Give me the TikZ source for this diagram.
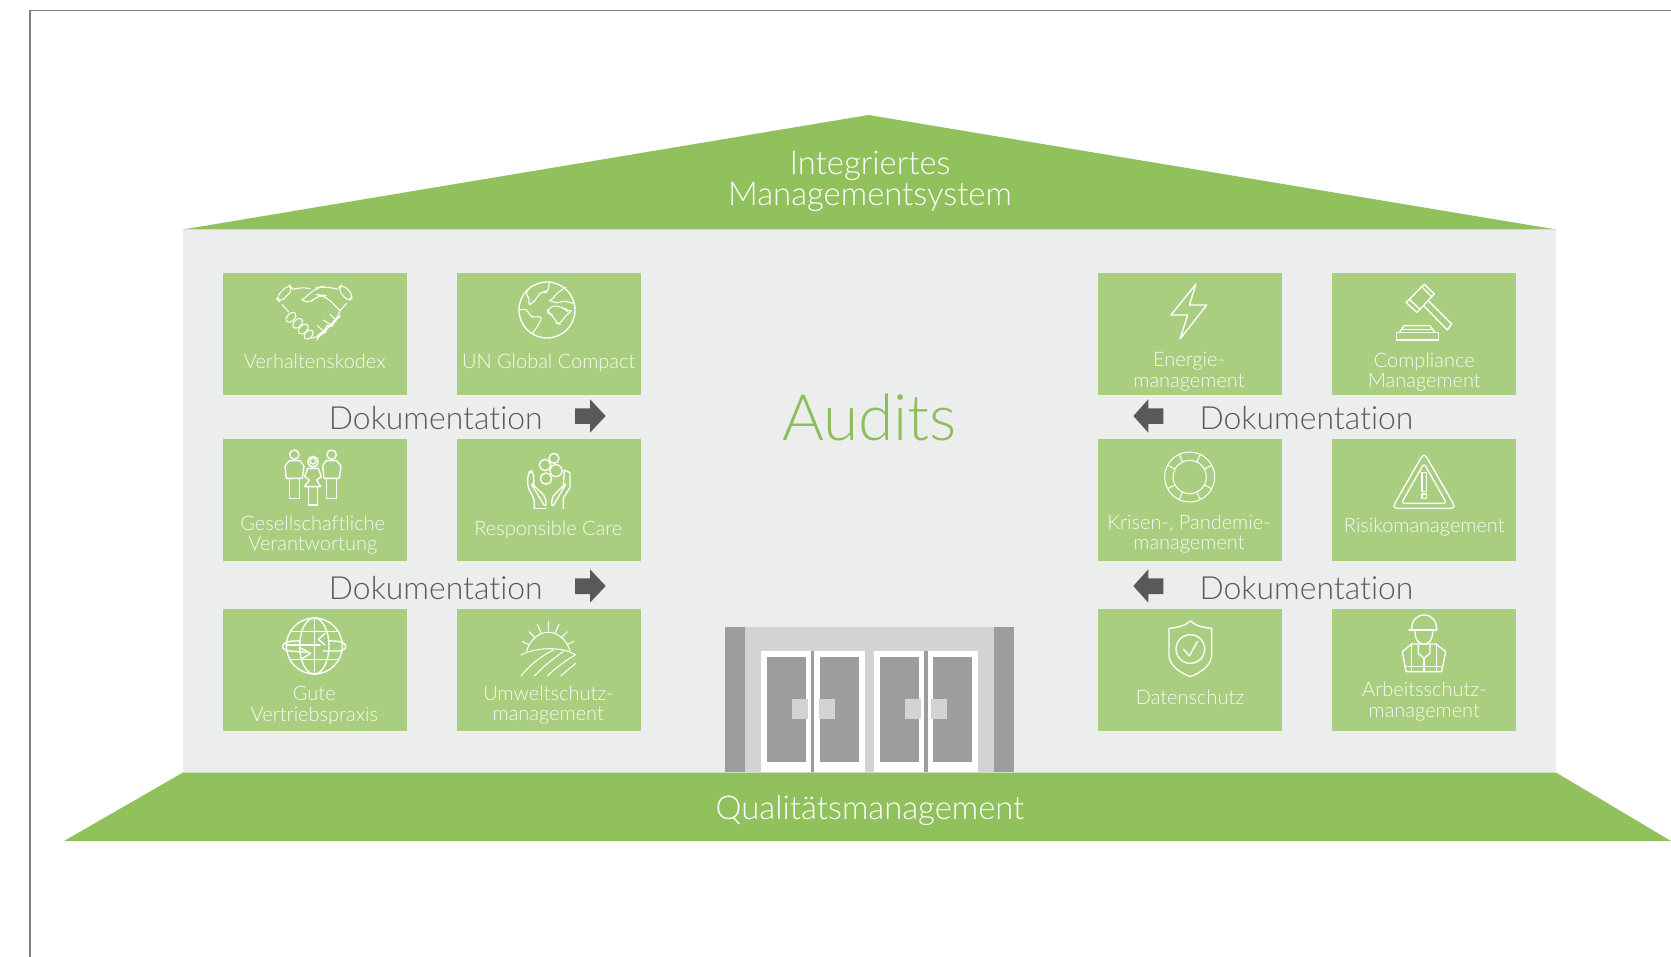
\documentclass[tikz,border=0pt]{standalone}
\usepackage{fontspec}
\usetikzlibrary{calc}
\setmainfont{Lato Light}[Ligatures=CommonOff]
\definecolor{roofgreen}{HTML}{91C15D}
\definecolor{boxgreen}{HTML}{A9CE80}
\definecolor{wallgray}{HTML}{ECEDED}
\definecolor{darkgray}{HTML}{58595B}
\definecolor{doorgray}{HTML}{9C9D9F}
\definecolor{lightdoor}{HTML}{D1D3D4}
\definecolor{audit}{HTML}{8CBF5A}
\definecolor{framegray}{HTML}{808285}
\tikzset{
 tile/.style={fill=boxgreen,draw=none},
 tiletext/.style={anchor=base,yshift=-0.8pt,text=white!92!boxgreen,font=\fontsize{20}{21}\selectfont,inner sep=0pt},
 doktext/.style={anchor=base,yshift=-0.8pt,text=darkgray,font=\fontsize{31.9}{33}\selectfont,inner sep=0pt},
 headtext/.style={anchor=base,yshift=-0.8pt,text=white,font=\fontsize{32.8}{34}\selectfont,inner sep=0pt},
 zoomed/.style 2 args={shift={(#1,#2)},x=0.33333pt,y=-0.33333pt},
 icon/.style={draw=white,line width=1.35pt,line join=round,line cap=round},
 thinicon/.style={draw=white,line width=1.05pt,line join=round,line cap=round},
 dokarrow/.style={fill=darkgray,draw=none},
}
\begin{document}
\begin{tikzpicture}[x=1pt,y=-1pt]
\useasboundingbox (0,0) rectangle (1671,957);
\clip (0,0) rectangle (1671,957);
\fill[white] (0,0) rectangle (1671,957);
% frame
\draw[draw=framegray,line width=1.3pt] (30,957) -- (30,10.5) -- (1671,10.5);
% building
\fill[wallgray] (183,229.5) rectangle (1556,773);
\fill[roofgreen] (868.5,115) -- (1556,229.5) -- (183,229.5) -- cycle;
\fill[roofgreen] (183,772.5) -- (1556,772.5) -- (1671,841) -- (64,841) -- cycle;
% tiles
\fill[tile] (222.7,273) rectangle (406.7,395);
\fill[tile] (456.7,273) rectangle (640.7,395);
\fill[tile] (222.7,439) rectangle (406.7,561.3);
\fill[tile] (456.7,439) rectangle (640.7,561.3);
\fill[tile] (222.7,609) rectangle (406.7,731);
\fill[tile] (456.7,609) rectangle (640.7,731);
\fill[tile] (1098,273) rectangle (1281.7,395);
\fill[tile] (1332,273) rectangle (1516,395);
\fill[tile] (1098,439) rectangle (1281.7,561.3);
\fill[tile] (1332,439) rectangle (1516,561.3);
\fill[tile] (1098,609) rectangle (1281.7,731);
\fill[tile] (1332,609) rectangle (1516,731);
% door
\begin{scope}[zoomed={710}{610}]
\fill[lightdoor] (104,51) rectangle (851,487);
\fill[doorgray] (44,51) rectangle (104,487);
\fill[doorgray] (851,51) rectangle (911,487);
\fill[doorgray] (302,123) rectangle (312,487);
\fill[doorgray] (643,123) rectangle (653,487);
\fill[white] (152,123) rectangle (302,487);
\fill[white] (312,123) rectangle (465,487);
\fill[white] (491,123) rectangle (643,487);
\fill[white] (653,123) rectangle (803,487);
\fill[doorgray] (170,141) rectangle (288,456);
\fill[doorgray] (329,141) rectangle (446,456);
\fill[doorgray] (509,141) rectangle (626,456);
\fill[doorgray] (668,141) rectangle (785,456);
\fill[lightdoor] (245,267) rectangle (293,327);
\fill[lightdoor] (326,267) rectangle (374,327);
\fill[lightdoor] (584,267) rectangle (632,327);
\fill[lightdoor] (662,267) rectangle (710,327);
\end{scope}
% arrows
\begin{scope}[zoomed={210}{260}]
\fill[dokarrow] (1095,445)--(1140,445)--(1140,418)--(1187,468)--(1140,518)--(1140,492)--(1095,492)--cycle;
\end{scope}
\begin{scope}[zoomed={210}{570}]
\fill[dokarrow] (1095,25)--(1140,25)--(1140,-2)--(1187,48)--(1140,98)--(1140,72)--(1095,72)--cycle;
\end{scope}
\begin{scope}[zoomed={1090}{260}]
\fill[dokarrow] (220,445)--(175,445)--(175,418)--(130,468)--(175,518)--(175,492)--(220,492)--cycle;
\end{scope}
\begin{scope}[zoomed={1090}{570}]
\fill[dokarrow] (220,25)--(175,25)--(175,-2)--(130,48)--(175,98)--(175,72)--(220,72)--cycle;
\end{scope}
% texts
\node[headtext] (t1) at (870,173.7) {Integriertes};
\node[headtext] (t2) at (870,204.6) {Managementsystem};
\node[headtext] (t3) at (870,818.5) {Qualitätsmanagement};
\node[anchor=base,text=audit,font=\fontsize{64}{66}\selectfont,inner sep=0pt] (audits) at (869.5,440) {Audits};
\node[doktext] (d1) at (435.8,428.3) {Dokumentation};
\node[doktext] (d2) at (435.8,598.3) {Dokumentation};
\node[doktext] (d3) at (1306.5,428.3) {Dokumentation};
\node[doktext] (d4) at (1306.5,598.3) {Dokumentation};
\node[tiletext] (a1) at (314.7,367.7) {Verhaltenskodex};
\node[tiletext] (a2) at (548.7,367.7) {UN Global Compact};
\node[tiletext] (a3) at (312.7,529.3) {Gesellschaftliche};
\node[tiletext] (a3b) at (312.7,550) {Verantwortung};
\node[tiletext] (a4) at (548.3,534.3) {Responsible Care};
\node[tiletext] (a5) at (314.3,700) {Gute};
\node[tiletext] (a5b) at (314.3,720.7) {Vertriebspraxis};
\node[tiletext] (a6) at (548.3,699.3) {Umweltschutz-};
\node[tiletext] (a6b) at (548.3,720) {management};
\node[tiletext] (b1) at (1189,366) {Energie-};
\node[tiletext] (b1b) at (1189,386.7) {management};
\node[tiletext] (b2) at (1424.3,366.7) {Compliance};
\node[tiletext] (b2b) at (1424.3,386.7) {Management};
\node[tiletext] (b3) at (1189,528.3) {Krisen-, Pandemie-};
\node[tiletext] (b3b) at (1189,548.7) {management};
\node[tiletext] (b4) at (1424.3,531.7) {Risikomanagement};
\node[tiletext] (b5) at (1190,704) {Datenschutz};
\node[tiletext] (b6) at (1424.3,696) {Arbeitsschutz-};
\node[tiletext] (b6b) at (1424.3,716.7) {management};
% --- icons, left upper block
\begin{scope}[zoomed={210}{260}]
% handshake
\begin{scope}[thinicon]
\draw[rounded corners=6] (197,113)--(235,73)--(250,87)--(211,128)--cycle;
\draw[rounded corners=6] (383,87)--(398,72)--(431,108)--(415,126)--cycle;
\draw (216,133)--(236,156);
\draw[rounded corners=8] (250,88)--(272,80)--(300,86);
\draw[rounded corners=9] (278,120)--(316,84)--(345,78)--(383,88);
\draw[rounded corners=9] (278,120)--(291,138)--(322,104)--(345,106)--(390,152);
\draw (410,130)--(390,152);
\draw[rounded corners=7] (390,152)--(388,170)--(375,180)--(368,195)--(350,200)--(345,215)--(330,222)--(322,237)--(305,234);
\draw (360,163)--(378,180);
\draw (340,180)--(368,198);
\draw (322,197)--(345,217);
\draw (243,172) ellipse[x radius=18,y radius=11,rotate=45];
\draw (263,190) ellipse[x radius=18,y radius=11,rotate=45];
\draw (280,207) ellipse[x radius=18,y radius=11,rotate=45];
\draw (296,224) ellipse[x radius=16,y radius=11,rotate=45];
\end{scope}
% globe
\draw[icon] (1011,150) circle[radius=84];
\begin{scope}[thinicon]
\draw[rounded corners=4] (930,150)--(950,145)--(960,170)--(975,172)--(998,168)--(985,195)--(968,220);
\draw[rounded corners=4] (955,88)--(945,105)--(962,115)--(952,135)--(970,130)--(985,105)--(1000,92)--(1012,100)--(1018,70);
\draw[rounded corners=4] (1012,150)--(1030,135)--(1065,145)--(1072,155)--(1090,150)--(1065,168)--(1050,193)--(1040,190)--(1028,165)--(1015,160)--cycle;
\draw[rounded corners=3] (1018,122)--(1030,115)--(1040,100)--(1068,82);
\draw[rounded corners=3] (1018,122)--(1045,130)--(1060,122)--(1088,130);
\end{scope}
% family
\begin{scope}[icon]
\draw (253,584) circle[radius=14];
\draw (365,584) circle[radius=14];
\draw (309,605) circle[radius=16];
\draw (309,603) circle[radius=9];
\draw (238,602)--(270,602)--(282,618)--(277,655)--(229,655)--(225,618)--cycle;
\draw (238,655)--(238,715)--(268,715)--(268,655);
\draw (348,602)--(380,602)--(393,618)--(388,655)--(342,655)--(338,618)--cycle;
\draw (350,655)--(350,715)--(380,715)--(380,655);
\draw (293,625)--(325,625)--(334,650)--(320,660)--(332,680)--(283,680)--(298,660)--(284,650)--cycle;
\draw (296,680)--(296,735)--(322,735)--(322,680);
\end{scope}
% care
\begin{scope}[icon]
\draw (1032,595) circle[radius=15];
\draw (1005,615) circle[radius=17];
\draw (1038,632) circle[radius=18];
\draw (1008,656) circle[radius=17];
\draw[rounded corners=5] (973,745)--(973,715)--(953,682)--(953,638)--(970,630)--(972,672);
\draw[rounded corners=5] (960,665)--(1008,712)--(1008,745)--cycle;
\draw (1060,745)--(1060,715)--(1080,682)--(1080,638)--(1063,630)--(1060,672);
\draw[rounded corners=5] (1072,665)--(1025,712)--(1025,745)--cycle;
\draw (973,745)--(1008,745);
\end{scope}
\end{scope}
% --- icons, left lower block
\begin{scope}[zoomed={210}{570}]
% trade globe
\begin{scope}[icon]
\draw (313,228) circle[radius=84];
\draw (313,228) ellipse[x radius=44,y radius=84];
\draw (313,144)--(313,312);
\draw (243,185)--(383,185);
\draw (230,225)--(330,225);
\draw (243,268)--(383,268);
\draw (270,212) -- (240,214) .. controls (210,220) and (210,240) .. (240,243) -- (290,247);
\draw (355,212) -- (385,214) .. controls (415,220) and (415,240) .. (385,243) -- (340,243);
\draw (270,233)--(302,250)--(275,267);
\draw (345,190)--(325,208)--(345,225);
\end{scope}
% sun field
\begin{scope}[thinicon]
\draw (950,243) .. controls (960,210) and (985,187) .. (1015,187) .. controls (1045,187) and (1070,210) .. (1080,243);
\draw (1015,155)--(1015,182);
\draw (982,163)--(993,188);
\draw (1047,163)--(1036,188);
\draw (957,185)--(975,203);
\draw (1072,185)--(1054,203);
\draw (938,215)--(957,224);
\draw (1090,215)--(1071,224);
\draw (933,255) .. controls (970,235) and (1050,225) .. (1097,255);
\draw (933,318) .. controls (960,285) and (990,260) .. (1030,240);
\draw (973,318) .. controls (1000,290) and (1030,265) .. (1060,245);
\draw (1013,318) .. controls (1040,290) and (1070,270) .. (1095,255);
\draw (1052,318)--(1097,280);
\end{scope}
\end{scope}
% --- icons, right upper block
\begin{scope}[zoomed={1090}{260}]
\draw[icon] (318,72)--(298,135)--(350,135)--(270,237)--(293,165)--(243,165)--cycle;
% gavel
\begin{scope}[icon]
\draw (948,127)--(958,118)--(990,148)--(980,157)--cycle;
\draw (995,80)--(1003,73)--(1033,102)--(1025,110)--cycle;
\draw (958,118)--(995,80);
\draw (990,148)--(1025,110);
\draw (1015,122)--(1085,192)--(1072,210)--(1002,138);
\draw (919,240) rectangle (1045,218);
\draw (928,218)--(942,197)--(1020,197)--(1035,218);
\draw (938,208)--(1027,208);
\end{scope}
% ring
\begin{scope}[thinicon]
\draw (299,651) circle[radius=75];
\draw (299,651) circle[radius=50];
\foreach \a in {28,65,115,152,208,245,295,332}
  \draw ($(299,651)+(\a:50)$) -- ($(299,651)+(\a:75)$);
\end{scope}
% warning
\begin{scope}[icon]
\draw[rounded corners=5] (1002,578)--(1098,745)--(906,745)--cycle;
\draw[rounded corners=3] (1002,610)--(1070,730)--(934,730)--cycle;
\draw (996,638) rectangle (1010,695);
\draw (996,702) rectangle (1010,716);
\end{scope}
\end{scope}
% --- icons, right lower block
\begin{scope}[zoomed={1090}{570}]
\begin{scope}[icon]
\draw (301,153) .. controls (285,168) and (260,173) .. (237,175) -- (237,258) .. controls (240,290) and (275,310) .. (301,320) .. controls (327,310) and (362,290) .. (365,258) -- (365,175) .. controls (342,173) and (317,168) .. cycle;
\draw (301,237) circle[radius=43];
\draw (281,238)--(298,258)--(322,215);
\end{scope}
\begin{scope}[icon]
\draw (957,180)--(1040,180);
\draw (965,178) .. controls (965,120) and (1040,120) .. (1040,178);
\draw (975,182) .. controls (975,215) and (990,222) .. (1002,222) .. controls (1014,222) and (1028,215) .. (1028,182);
\draw (965,222)--(937,245)--(948,305)--(1055,305)--(1067,245)--(1038,222)--cycle;
\draw (965,222)--(965,305);
\draw (985,225)--(985,250)--(1002,265)--(1020,250)--(1020,225);
\draw (1040,222)--(1040,305);
\draw (1002,265)--(1002,305);
\draw (948,290)--(1055,290);
\end{scope}
\end{scope}
\end{tikzpicture}
\end{document}
